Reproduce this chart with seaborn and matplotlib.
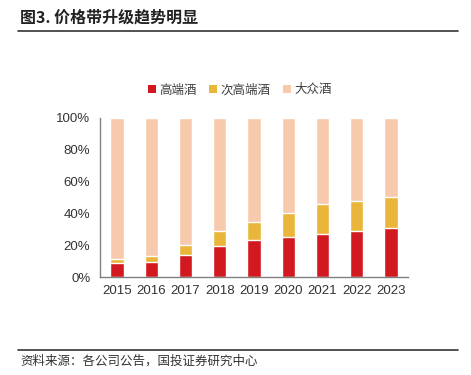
import matplotlib
matplotlib.use("Agg")
import matplotlib.pyplot as plt
import matplotlib.ticker as mtick
from matplotlib.patches import Patch
import seaborn as sns
import pandas as pd

years = ["2015", "2016", "2017", "2018", "2019", "2020", "2021", "2022", "2023"]
high_end = [8.6, 9.5, 14.0, 19.5, 23.1, 25.4, 27.1, 29.2, 30.9]
sub_high = [2.9, 3.9, 6.2, 9.7, 11.6, 15.1, 19.1, 18.3, 19.7]
mass = [100 - a - b for a, b in zip(high_end, sub_high)]
series_names = ["高端酒", "次高端酒", "大众酒"]
colors = ["#D2191F", "#E9B63B", "#F8CAAD"]

sns.set_style("white")
plt.rcParams["font.family"] = ["Noto Sans CJK SC", "DejaVu Sans"]

df = pd.DataFrame({"year": years, "high": high_end, "sub": sub_high, "mass": mass})
df["cum_sub"] = df["high"] + df["sub"]
df["cum_all"] = df["cum_sub"] + df["mass"]

fig = plt.figure(figsize=(4.71, 3.75), dpi=100)
ax = fig.add_axes([100 / 471, 1 - 277 / 375, 308 / 471, 159 / 375])

# stacked look: draw cumulative totals from back to front
sns.barplot(data=df, x="year", y="cum_all", color=colors[2], width=0.39, ax=ax, saturation=1)
sns.barplot(data=df, x="year", y="cum_sub", color=colors[1], width=0.39, ax=ax, saturation=1)
sns.barplot(data=df, x="year", y="high", color=colors[0], width=0.39, ax=ax, saturation=1)

ax.set_xlim(-0.5, len(years) - 0.5)
ax.set_ylim(0, 100)
ax.set_yticks([0, 20, 40, 60, 80, 100])
ax.yaxis.set_major_formatter(mtick.FuncFormatter(lambda v, p: f"{v:.0f}%"))
ax.set_xlabel("")
ax.set_ylabel("")

for s in ["top", "right"]:
    ax.spines[s].set_visible(False)
for s in ["left", "bottom"]:
    ax.spines[s].set_color("#808080")
    ax.spines[s].set_linewidth(1.0)

# x ticks between categories
ax.set_xticks(range(len(years)))
ax.set_xticklabels(years)
ax.tick_params(axis="x", length=0, pad=6)
ax.set_xticks([i - 0.5 for i in range(len(years) + 1)], minor=True)
ax.tick_params(axis="x", which="minor", length=4, color="#808080", direction="out")
ax.tick_params(axis="y", length=4, color="#808080", direction="out", pad=3)
for lab in ax.get_xticklabels() + ax.get_yticklabels():
    lab.set_fontfamily(["Liberation Sans", "DejaVu Sans"])
    lab.set_fontsize(9.5)
    lab.set_color("#333333")

handles = [Patch(facecolor=c, edgecolor="none") for c in colors]
fig.legend(handles, series_names, loc="center", bbox_to_anchor=(240 / 471, 1 - 90 / 375),
           ncol=3, frameon=False, fontsize=9, handlelength=0.6, handleheight=0.6,
           handletextpad=0.3, columnspacing=1.0, labelcolor="#404040")

fig.text(20 / 471, 1 - 18 / 375, "图3. 价格带升级趋势明显", fontsize=11.5, fontweight="bold",
         color="#222222", va="center", ha="left")
fig.add_artist(plt.Line2D([18 / 471, 458 / 471], [1 - 31 / 375, 1 - 31 / 375],
                          color="#333333", linewidth=1.2))
fig.add_artist(plt.Line2D([18 / 471, 458 / 471], [1 - 350 / 375, 1 - 350 / 375],
                          color="#333333", linewidth=1.2))
fig.text(20 / 471, 1 - 361 / 375, "资料来源：各公司公告，国投证券研究中心", fontsize=9,
         color="#333333", va="center", ha="left")

fig.savefig("out.png", dpi=100)
